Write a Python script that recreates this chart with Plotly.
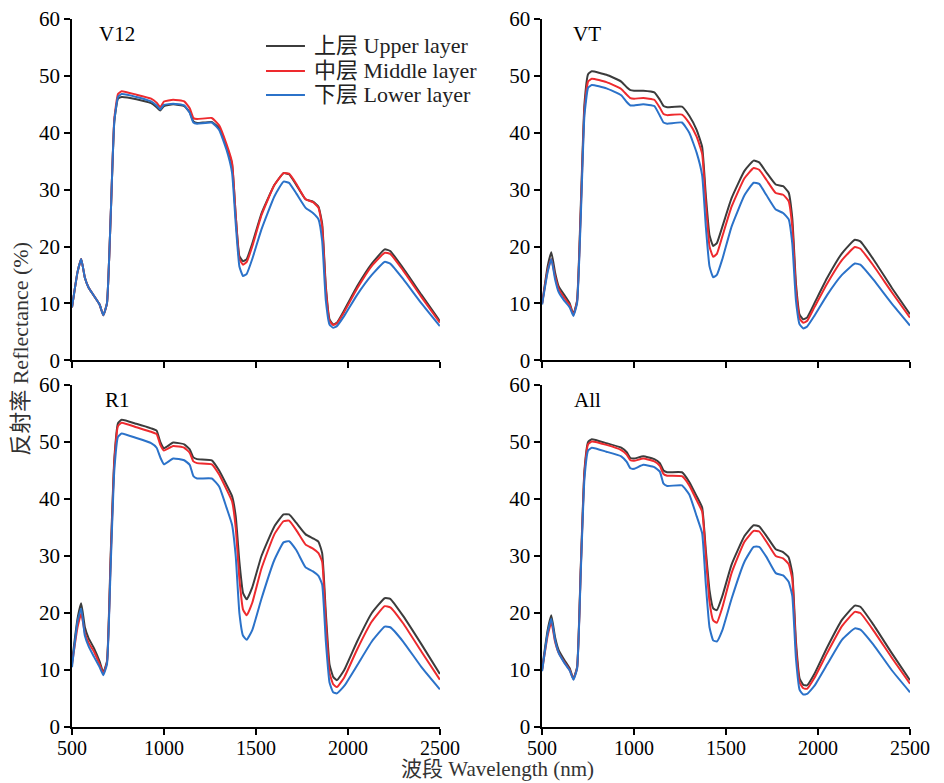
import plotly.graph_objects as go

# wavelength grid (nm)
wl = [500, 530, 550, 570, 590, 620, 650, 670, 690, 710, 730, 750, 770, 850, 930, 960,
      980, 1000, 1050, 1110, 1140, 1160, 1180, 1260, 1300, 1340, 1370, 1390, 1410, 1430,
      1450, 1480, 1530, 1600, 1650, 1680, 1720, 1770, 1810, 1840, 1860, 1880, 1900, 1920,
      1940, 1980, 2050, 2130, 2200, 2230, 2300, 2400, 2500]

# V12
v12_upper = [9.3, 15.5, 17.8, 14.5, 12.8, 11.3, 9.8, 7.9, 10.0, 25, 42, 46.0, 46.3, 45.9, 45.2, 44.5,
             43.9, 44.7, 45.0, 44.7, 43.6, 42.0, 41.7, 41.9, 40.8, 37.6, 34.5, 25.5, 18.3, 17.4,
             17.8, 20.5, 25.8, 30.8, 32.9, 32.7, 30.8, 28.3, 27.9, 27.0, 24.0, 13.0, 7.2, 6.3,
             6.6, 8.8, 13.0, 17.0, 19.5, 19.2, 16.2, 11.5, 6.9]
v12_middle = [9.3, 15.5, 17.8, 14.5, 12.8, 11.3, 9.8, 7.9, 10.0, 25, 42.5, 46.8, 47.3, 46.7, 46.0, 45.3,
              44.5, 45.5, 45.8, 45.5, 44.3, 42.6, 42.4, 42.6, 41.3, 38.0, 34.8, 25.5, 17.8, 16.8,
              17.3, 20.0, 25.5, 30.8, 32.9, 32.8, 31.0, 28.3, 27.8, 26.8, 23.5, 12.5, 6.9, 6.2,
              6.5, 8.5, 12.6, 16.6, 18.9, 18.7, 15.8, 11.1, 6.6]
v12_lower = [9.3, 15.5, 17.8, 14.5, 12.8, 11.3, 9.8, 7.9, 10.0, 25, 42, 46.3, 46.8, 46.3, 45.5, 44.8,
             44.1, 44.9, 45.1, 44.8, 43.5, 41.8, 41.6, 41.8, 40.5, 37.0, 33.0, 24.0, 16.5, 14.8,
             15.2, 17.8, 23.0, 28.8, 31.4, 31.2, 29.3, 26.8, 25.9, 24.8, 21.0, 10.5, 6.3, 5.7,
             6.0, 7.8, 11.5, 15.0, 17.3, 17.0, 14.3, 10.0, 6.0]

# VT
vt_upper = [10.0, 16.5, 19.0, 15.5, 13.0, 11.5, 10.0, 8.1, 10.5, 27, 45, 50.3, 50.8, 50.2, 49.0, 48.0,
            47.5, 47.4, 47.4, 47.1, 45.8, 44.7, 44.5, 44.6, 43.0, 40.5, 37.5, 29.0, 22.0, 20.1,
            20.6, 23.5, 28.5, 33.3, 35.1, 34.8, 33.0, 30.9, 30.6, 29.5, 25.0, 13.5, 8.0, 7.2,
            7.5, 10.0, 14.5, 18.8, 21.2, 20.9, 17.8, 12.8, 8.1]
vt_middle = [10.0, 15.8, 17.8, 14.8, 12.5, 11.0, 9.7, 8.0, 10.3, 26, 44, 49.0, 49.5, 48.9, 47.7, 46.7,
             46.1, 46.0, 46.1, 45.8, 44.4, 43.3, 43.1, 43.2, 41.7, 39.3, 36.3, 27.5, 20.0, 18.2,
             18.7, 21.8, 27.0, 32.0, 33.8, 33.5, 31.7, 29.4, 29.1, 28.0, 23.5, 12.5, 7.3, 6.6,
             6.9, 9.3, 13.5, 17.6, 19.9, 19.6, 16.7, 12.0, 7.5]
vt_lower = [9.8, 15.5, 17.8, 14.3, 12.0, 10.5, 9.3, 7.8, 10.0, 25, 43, 47.9, 48.4, 47.8, 46.6, 45.4,
            44.8, 44.8, 45.0, 44.7, 43.0, 41.8, 41.6, 41.8, 40.0, 36.5, 32.5, 23.5, 16.5, 14.6,
            15.0, 17.8, 23.5, 29.0, 31.2, 31.0, 29.0, 26.5, 25.9, 24.8, 20.5, 10.5, 6.3, 5.6,
            5.9, 7.8, 11.5, 15.0, 17.0, 16.8, 14.2, 10.0, 6.1]

# R1
r1_upper = [11.4, 19.0, 21.7, 17.5, 15.6, 13.8, 11.5, 9.6, 11.5, 30, 47, 53.3, 53.9, 53.2, 52.4, 52.0,
            50.0, 48.9, 49.9, 49.6, 48.7, 47.3, 47.0, 46.8, 45.0, 42.5, 40.5, 37.0, 29.0, 23.5,
            22.4, 24.5, 30.0, 35.2, 37.3, 37.3, 35.8, 33.8, 33.1, 32.5, 30.5, 20.0, 11.0, 8.8,
            8.2, 10.0, 15.0, 20.0, 22.6, 22.5, 19.5, 14.5, 9.3]
r1_middle = [11.0, 17.5, 19.9, 16.5, 14.8, 13.2, 11.0, 9.4, 11.3, 29, 46.5, 52.8, 53.4, 52.6, 51.8, 51.4,
             49.5, 48.5, 49.3, 49.0, 48.1, 46.6, 46.3, 46.1, 44.3, 41.7, 39.6, 35.0, 26.0, 20.6,
             19.6, 21.8, 27.8, 33.8, 36.1, 36.2, 34.5, 32.0, 31.3, 30.5, 29.0, 18.5, 9.5, 7.5,
             7.0, 8.7, 13.6, 18.5, 21.2, 21.0, 18.2, 13.2, 8.3]
r1_lower = [10.5, 18.5, 20.8, 16.0, 14.2, 12.3, 10.5, 9.1, 11.0, 28, 45, 50.9, 51.5, 50.7, 49.8, 49.0,
            47.3, 46.1, 47.1, 46.8, 46.0, 44.0, 43.6, 43.6, 42.2, 38.5, 35.5, 30.0, 20.0, 16.0,
            15.3, 17.0, 22.5, 29.3, 32.4, 32.6, 31.0, 28.0, 27.3, 26.5, 25.0, 15.0, 7.8, 6.1,
            5.9, 7.2, 10.8, 15.0, 17.6, 17.5, 15.0, 10.5, 6.6]

# All
all_upper = [10.2, 17.0, 19.6, 15.8, 13.5, 11.8, 10.3, 8.5, 10.5, 28, 45, 50.0, 50.5, 49.8, 49.0, 48.2,
             47.2, 47.1, 47.5, 47.0, 46.3, 45.0, 44.7, 44.7, 43.0, 40.5, 38.5, 31.0, 24.0, 20.8,
             20.5, 23.0, 28.5, 33.5, 35.4, 35.2, 33.5, 31.2, 30.7, 29.8, 27.0, 15.0, 8.5, 7.4,
             7.3, 9.3, 14.0, 18.8, 21.3, 21.1, 18.0, 13.0, 8.2]
all_middle = [10.0, 16.0, 18.4, 15.0, 13.0, 11.4, 10.0, 8.4, 10.3, 27.5, 44.5, 49.6, 50.1, 49.5, 48.6, 47.8,
              46.8, 46.7, 47.1, 46.6, 45.8, 44.4, 44.1, 44.0, 42.4, 39.8, 37.8, 30.0, 22.0, 18.7,
              18.3, 21.0, 27.0, 32.5, 34.4, 34.3, 32.5, 30.0, 29.6, 28.6, 26.0, 14.0, 7.8, 6.8,
              6.7, 8.6, 13.0, 17.7, 20.2, 20.0, 17.0, 12.2, 7.6]
all_lower = [9.8, 16.5, 19.0, 15.3, 13.0, 11.3, 9.9, 8.3, 10.2, 27, 43.5, 48.5, 49.0, 48.3, 47.5, 46.5,
             45.4, 45.3, 46.0, 45.6, 44.8, 42.7, 42.3, 42.4, 40.8, 37.0, 34.0, 25.0, 17.5, 15.2,
             15.0, 17.0, 22.5, 29.0, 31.6, 31.6, 29.8, 27.0, 26.6, 25.5, 23.0, 12.0, 6.5, 5.7,
             5.8, 7.2, 11.0, 15.3, 17.3, 17.1, 14.5, 10.0, 6.1]

panel_names = ["V12", "VT", "R1", "All"]
layer_names = ["上层 Upper layer", "中层 Middle layer", "下层 Lower layer"]
layer_colors = ["#3c3c3c", "#ee2a2e", "#2b72c9"]

panels = [
    [v12_upper, v12_middle, v12_lower],
    [vt_upper, vt_middle, vt_lower],
    [r1_upper, r1_middle, r1_lower],
    [all_upper, all_middle, all_lower],
]

FONT = "Liberation Serif, Times New Roman, Noto Sans CJK SC, serif"

fig = go.Figure()

x_domains = [[0, 0.439], [0.561, 1.0]]
y_domains = [[0.518, 1.0], [0.0, 0.483]]

for i, series in enumerate(panels):
    n = i + 1
    suffix = "" if n == 1 else str(n)
    for j, ys in enumerate(series):
        fig.add_trace(go.Scatter(
            x=wl, y=ys, mode="lines",
            line=dict(color=layer_colors[j], width=2, shape="spline", smoothing=0.4),
            name=layer_names[j], showlegend=False,
            xaxis="x" + suffix, yaxis="y" + suffix,
        ))

axis_common = dict(
    showline=True, linecolor="black", linewidth=1.5,
    ticks="outside", ticklen=6, tickwidth=1.5, tickcolor="black",
    showgrid=False, zeroline=False, automargin=False,
    ticklabeloverflow="allow",
    tickfont=dict(family=FONT, size=21, color="black"),
)

layout = dict(
    width=944, height=783,
    margin=dict(l=64, r=42, t=11, b=64),
    plot_bgcolor="white", paper_bgcolor="white",
    font=dict(family=FONT, color="black"),
    showlegend=False,
    annotations=[], shapes=[],
)

for i in range(4):
    n = i + 1
    suffix = "" if n == 1 else str(n)
    col = i % 2
    row = i // 2
    layout["xaxis" + suffix] = dict(
        axis_common, domain=x_domains[col], range=[500, 2500],
        tickvals=[500, 1000, 1500, 2000, 2500],
        showticklabels=(row == 1), anchor="y" + suffix,
        ticklabelstandoff=-4,
        tickfont=dict(family=FONT, size=20, color="black"),
    )
    layout["yaxis" + suffix] = dict(
        axis_common, domain=y_domains[row], range=[0, 60],
        tickvals=[0, 10, 20, 30, 40, 50, 60], anchor="x" + suffix,
    )
    layout["annotations"].append(dict(
        text=panel_names[i], x=745, y=57.3, xref="x" + suffix, yref="y" + suffix,
        xanchor="center", yanchor="middle", showarrow=False,
        font=dict(family=FONT, size=21, color="black"),
    ))

# legend drawn by hand so the row spacing matches
legend_rows = [0.962, 0.9266, 0.8927]
for name, color, ly in zip(layer_names, layer_colors, legend_rows):
    layout["shapes"].append(dict(
        type="line", xref="paper", yref="paper",
        x0=0.2315, x1=0.278, y0=ly, y1=ly,
        line=dict(color=color, width=2),
    ))
    layout["annotations"].append(dict(
        text=name, x=0.2864, y=ly, xref="paper", yref="paper",
        xanchor="left", yanchor="middle", showarrow=False,
        font=dict(family=FONT, size=22, color="#222"),
    ))

layout["annotations"].append(dict(
    text="反射率 Reflectance (%)", x=-0.061, y=0.534, xref="paper", yref="paper",
    textangle=-90, showarrow=False, xanchor="center", yanchor="middle",
    font=dict(family=FONT, size=22, color="#333"),
))
layout["annotations"].append(dict(
    text="波段 Wavelength (nm)", x=0.508, y=-0.0595, xref="paper", yref="paper",
    showarrow=False, xanchor="center", yanchor="middle",
    font=dict(family=FONT, size=21, color="#333"),
))

fig.update_layout(layout)
fig.write_html("out.html")
